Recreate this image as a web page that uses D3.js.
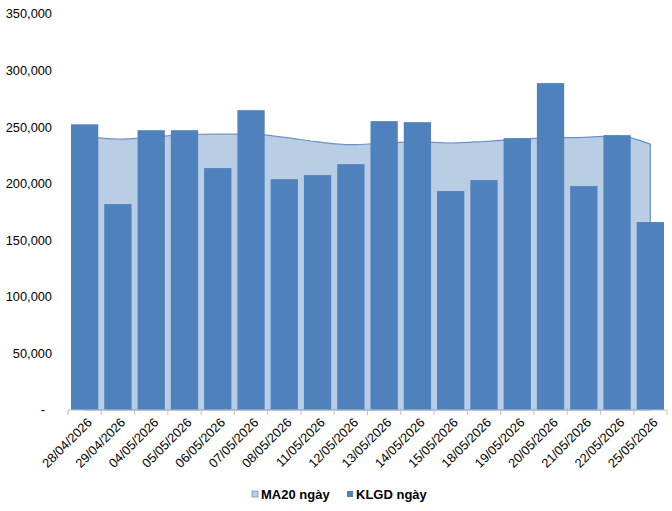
<!DOCTYPE html>
<html><head><meta charset="utf-8">
<script src="https://cdn.jsdelivr.net/npm/d3@7"></script>
<style>body{margin:0;background:#fff}svg{display:block}text{font-family:"Liberation Sans",Arial,sans-serif}</style>
</head><body><svg id="c" width="672" height="511"></svg>
<script>
const dates = ["28/04/2026","29/04/2026","04/05/2026","05/05/2026","06/05/2026","07/05/2026","08/05/2026","11/05/2026","12/05/2026","13/05/2026","14/05/2026","15/05/2026","18/05/2026","19/05/2026","20/05/2026","21/05/2026","22/05/2026","25/05/2026"];
const klgd = [252500,182000,247300,247300,213800,265000,204000,207600,217300,255300,254400,193500,203200,240300,288900,197900,242900,166100];
const ma20 = [242000,239400,241000,243500,243800,243800,241000,237000,234500,236000,237000,236000,237300,239200,240500,241000,242300,235000];
const yTicks = [0,50000,100000,150000,200000,250000,300000,350000];
const seriesNames = ["MA20 ngày","KLGD ngày"];

const svg = d3.select("#c");
const m = {l:68, r:5, t:14, b:101};
const W = 672, H = 511;
const x = d3.scaleBand().domain(dates).range([m.l, W - m.r]).paddingInner(0.18).paddingOuter(0.09);
const xc = d3.scalePoint().domain(dates).range([m.l, W - m.r]).padding(0.5);
const y = d3.scaleLinear().domain([0,350000]).range([H - m.b, m.t]);

// area
const area = d3.area().x((d,i)=>xc(dates[i])).y0(y(0)).y1(d=>y(d)).curve(d3.curveMonotoneX);
svg.append("path").datum(ma20).attr("d", area).attr("fill","#B9CDE5").attr("stroke","#6C93CA").attr("stroke-width",1.2);

// bars
svg.append("g").selectAll("rect").data(klgd).join("rect")
  .attr("x",(d,i)=>x(dates[i])).attr("width",x.bandwidth())
  .attr("y",d=>y(d)).attr("height",d=>y(0)-y(d)).attr("fill","#4F81BD");

// x axis
const step = (W - m.r - m.l)/dates.length;
const gx = svg.append("g").attr("transform",`translate(0,${y(0)})`);
gx.append("line").attr("x1",m.l).attr("x2",W-m.r).attr("stroke","#BFBFBF");
gx.selectAll("line.t").data(d3.range(dates.length+1)).join("line").attr("class","t")
  .attr("x1",i=>m.l+i*step).attr("x2",i=>m.l+i*step).attr("y1",0).attr("y2",5).attr("stroke","#BFBFBF");
gx.selectAll("text").data(dates).join("text")
  .attr("transform",d=>`translate(${xc(d)+5},${10}) rotate(-45)`)
  .attr("text-anchor","end").attr("dy","0.35em").attr("font-size",12.8).attr("fill","#000").text(d=>d);

// y axis labels
svg.append("g").selectAll("text").data(yTicks).join("text")
  .attr("x",d=>d===0?45:52).attr("y",d=>y(d)).attr("dy","0.35em").attr("text-anchor","end")
  .attr("font-size",12.8).attr("fill","#000").text(d=>d===0?"-":d3.format(",")(d));

// legend
const lg = svg.append("g").attr("transform","translate(252,494)");
const lx = [0, 95];
const lcol = ["#B9CDE5","#4F81BD"];
seriesNames.forEach((n,i)=>{
  lg.append("rect").attr("x",lx[i]).attr("y",-3).attr("width",6).attr("height",6).attr("fill",lcol[i]).attr("stroke",i===0?"#6C93CA":"none").attr("stroke-width",0.8);
  lg.append("text").attr("x",lx[i]+9).attr("y",0).attr("dy","0.35em").attr("font-size",13).attr("font-weight","bold").text(n);
});
</script></body></html>
